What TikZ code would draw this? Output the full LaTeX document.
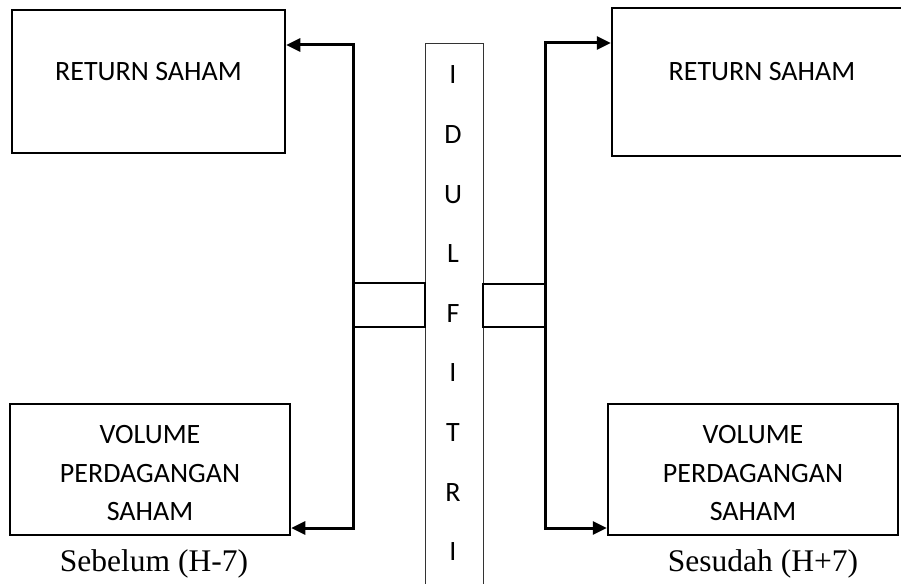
\documentclass[tikz,border=0pt]{standalone}
\usepackage{fontspec}
\setmainfont{Liberation Serif}
\newfontfamily\calfont{Carlito}
\usetikzlibrary{arrows.meta}
\begin{document}
\begin{tikzpicture}[x=1pt,y=-1pt,
  box/.style={draw, line width=2.5pt, inner sep=0pt},
  smallbox/.style={draw, line width=2pt, inner sep=0pt},
  lbl/.style={font=\calfont\fontsize{28}{38.5}\selectfont, align=center, inner sep=0pt},
  tip/.tip={Triangle[length=14pt,width=13pt]},
  conn/.style={line width=3pt, line join=miter, tip-tip},
  capt/.style={font=\fontsize{31.5}{36}\selectfont, inner sep=0pt}]
\useasboundingbox (0,0) rectangle (901,583);
\clip (0,0) rectangle (901,583);
% boxes
\node[box, minimum width=273pt, minimum height=143pt] (rs1) at (148.5,81.5) {};
\node[lbl] (rs1t) at (148.5,72) {RETURN SAHAM};
\node[box, minimum width=300pt, minimum height=148pt] (rs2) at (762,82) {};
\node[lbl] (rs2t) at (762,72) {RETURN SAHAM};
\node[box, minimum width=280pt, minimum height=131pt] (vp1) at (150,469.5) {};
\node[lbl] (vp1t) at (150,473.5) {VOLUME\\PERDAGANGAN\\SAHAM};
\node[box, minimum width=290pt, minimum height=131pt] (vp2) at (753,469.5) {};
\node[lbl] (vp2t) at (753,473.5) {VOLUME\\PERDAGANGAN\\SAHAM};
% central column
\node[draw=black!80, line width=0.8pt, minimum width=58pt, minimum height=560pt, inner sep=0pt, anchor=north] (col) at (454,43) {};
\foreach \t [count=\i] in {I,D,U,L,F,I,T,R,I}
  \node[lbl] (c\i) at (453,{75+59.6*(\i-1)}) {\t};
% small rectangles
\node[smallbox, minimum width=72pt, minimum height=44pt] (lr) at (389,305) {};
\node[smallbox, minimum width=62pt, minimum height=43pt] (rr) at (514,305.5) {};
% connectors
\coordinate (lt) at (353,45);
\coordinate (lb) at (353,528);
\coordinate (rt) at (545,43);
\coordinate (rb) at (545,528);
\draw[conn] (rs1.east |- lt) -- (lt) -- (lb) -- (vp1.east |- lb);
\draw[conn] (rs2.west |- rt) -- (rt) -- (rb) -- (vp2.west |- rb);
% captions
\node[capt] (sb) at (154,564) {Sebelum (H-7)};
\node[capt] (sd) at (763,564) {Sesudah (H+7)};
\end{tikzpicture}
\end{document}
